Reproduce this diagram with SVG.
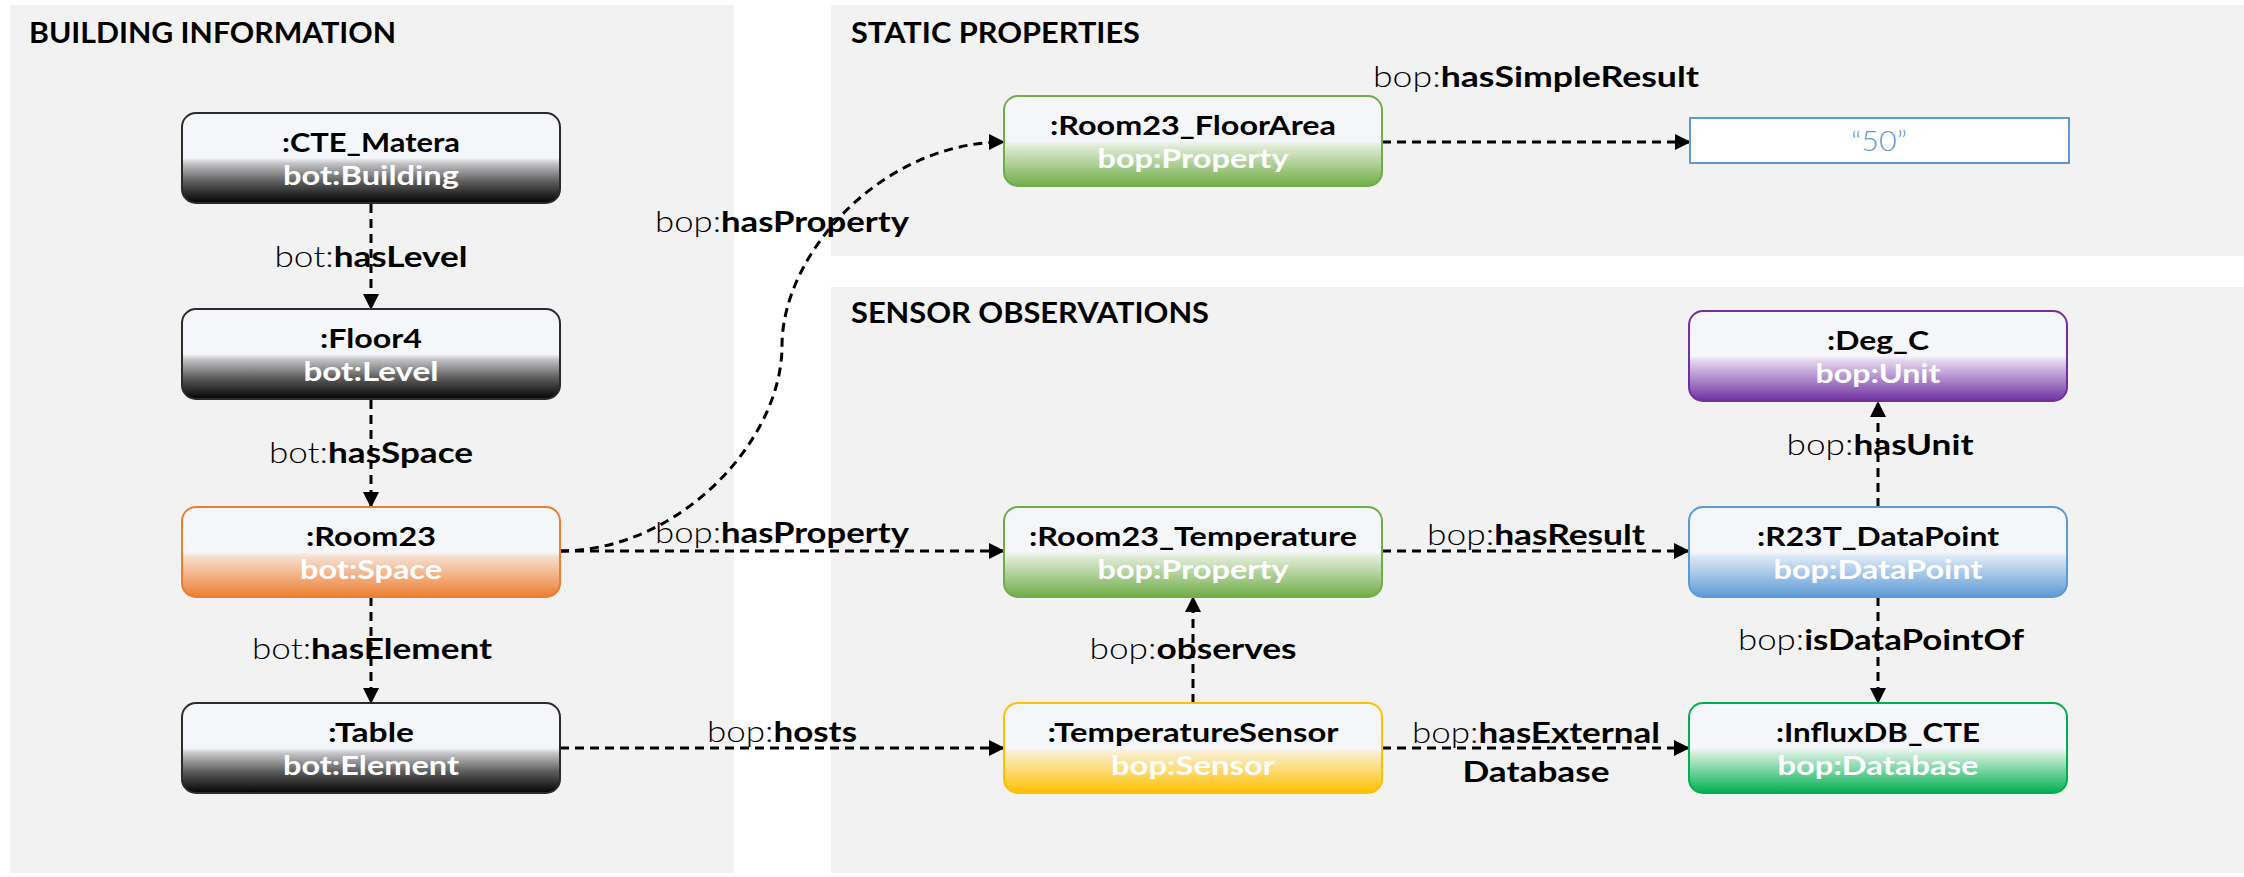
<svg xmlns="http://www.w3.org/2000/svg" width="2244" height="877" viewBox="0 0 2244 877">
  <style>
    .panel { fill: #f2f2f2; }
    .ptitle { font-family: Lato, "Liberation Sans", sans-serif; font-weight: 700; font-size: 29px; fill: #000; }
    .node rect { stroke-width: 2; }
    .ntitle { font-family: Lato, "Liberation Sans", sans-serif; font-weight: 700; font-size: 27px; fill: #000; text-anchor: middle; }
    .nsub { font-family: Lato, "Liberation Sans", sans-serif; font-weight: 700; font-size: 27px; fill: #fff; text-anchor: middle; }
    .lbl { font-family: Lato, "Liberation Sans", sans-serif; font-size: 29px; fill: #000; text-anchor: middle; }
    .lt { font-weight: 300; }
    .lb { font-weight: 700; }
    .edge { fill: none; stroke: #000; stroke-width: 3; stroke-dasharray: 9 6; marker-end: url(#arr); }
    .literal { fill: #fff; stroke: #5b9bd5; stroke-width: 2; }
    .littext { font-family: Lato, "Liberation Sans", sans-serif; font-weight: 300; font-size: 28px; fill: #5b9bd5; text-anchor: middle; }
  </style>
  <defs>
    <marker id="arr" markerUnits="userSpaceOnUse" markerWidth="16" markerHeight="16" refX="15" refY="8" orient="auto">
      <path d="M0,0 L16,8 L0,16 Z" fill="#000"/>
    </marker>
    <linearGradient id="gBlack" x1="0" y1="0" x2="0" y2="1">
      <stop offset="0" stop-color="#f5f6fa"/>
      <stop offset="0.5" stop-color="#f5f6fa"/>
      <stop offset="0.56" stop-color="#c4c4c7"/>
      <stop offset="0.76" stop-color="#5e5e5e"/>
      <stop offset="1" stop-color="#030303"/>
    </linearGradient>
    <linearGradient id="gOrange" x1="0" y1="0" x2="0" y2="1">
      <stop offset="0" stop-color="#f5f6fa"/>
      <stop offset="0.5" stop-color="#f5f6fa"/>
      <stop offset="0.55" stop-color="#f6dfd0"/>
      <stop offset="1" stop-color="#ed7d31"/>
    </linearGradient>
    <linearGradient id="gGreen" x1="0" y1="0" x2="0" y2="1">
      <stop offset="0" stop-color="#f5f6fa"/>
      <stop offset="0.5" stop-color="#f5f6fa"/>
      <stop offset="0.55" stop-color="#e1ecd9"/>
      <stop offset="1" stop-color="#70ad47"/>
    </linearGradient>
    <linearGradient id="gYellow" x1="0" y1="0" x2="0" y2="1">
      <stop offset="0" stop-color="#f5f6fa"/>
      <stop offset="0.5" stop-color="#f5f6fa"/>
      <stop offset="0.55" stop-color="#fbefcf"/>
      <stop offset="1" stop-color="#ffc000"/>
    </linearGradient>
    <linearGradient id="gBlue" x1="0" y1="0" x2="0" y2="1">
      <stop offset="0" stop-color="#f5f6fa"/>
      <stop offset="0.5" stop-color="#f5f6fa"/>
      <stop offset="0.55" stop-color="#dde8f5"/>
      <stop offset="1" stop-color="#5b9bd5"/>
    </linearGradient>
    <linearGradient id="gDb" x1="0" y1="0" x2="0" y2="1">
      <stop offset="0" stop-color="#f5f6fa"/>
      <stop offset="0.5" stop-color="#f5f6fa"/>
      <stop offset="0.55" stop-color="#d6efe0"/>
      <stop offset="1" stop-color="#00b050"/>
    </linearGradient>
    <linearGradient id="gPurple" x1="0" y1="0" x2="0" y2="1">
      <stop offset="0" stop-color="#f5f6fa"/>
      <stop offset="0.5" stop-color="#f5f6fa"/>
      <stop offset="0.55" stop-color="#e3d6ee"/>
      <stop offset="1" stop-color="#7030a0"/>
    </linearGradient>
  </defs>

  <rect width="2244" height="877" fill="#fff"/>

  <!-- section panels -->
  <g id="panels">
    <rect class="panel" x="10" y="5" width="724" height="868"/>
    <rect class="panel" x="831" y="5" width="1413" height="251"/>
    <rect class="panel" x="831" y="287" width="1413" height="586"/>
    <text class="ptitle" x="29" y="43" textLength="367" lengthAdjust="spacingAndGlyphs">BUILDING INFORMATION</text>
    <text class="ptitle" x="851" y="43" textLength="289" lengthAdjust="spacingAndGlyphs">STATIC PROPERTIES</text>
    <text class="ptitle" x="851" y="323" textLength="358" lengthAdjust="spacingAndGlyphs">SENSOR OBSERVATIONS</text>
  </g>

  <!-- edge labels -->
  <g id="labels">
    <text class="lbl" x="371" y="267" textLength="193" lengthAdjust="spacingAndGlyphs"><tspan class="lt">bot:</tspan><tspan class="lb">hasLevel</tspan></text>
    <text class="lbl" x="371" y="463" textLength="204" lengthAdjust="spacingAndGlyphs"><tspan class="lt">bot:</tspan><tspan class="lb">hasSpace</tspan></text>
    <text class="lbl" x="372" y="659" textLength="240" lengthAdjust="spacingAndGlyphs"><tspan class="lt">bot:</tspan><tspan class="lb">hasElement</tspan></text>
    <text class="lbl" x="782" y="232" textLength="254" lengthAdjust="spacingAndGlyphs"><tspan class="lt">bop:</tspan><tspan class="lb">hasProperty</tspan></text>
    <text class="lbl" x="782" y="543" textLength="254" lengthAdjust="spacingAndGlyphs"><tspan class="lt">bop:</tspan><tspan class="lb">hasProperty</tspan></text>
    <text class="lbl" x="782" y="742" textLength="150" lengthAdjust="spacingAndGlyphs"><tspan class="lt">bop:</tspan><tspan class="lb">hosts</tspan></text>
    <text class="lbl" x="1193" y="659" textLength="207" lengthAdjust="spacingAndGlyphs"><tspan class="lt">bop:</tspan><tspan class="lb">observes</tspan></text>
    <text class="lbl" x="1536" y="87" textLength="326" lengthAdjust="spacingAndGlyphs"><tspan class="lt">bop:</tspan><tspan class="lb">hasSimpleResult</tspan></text>
    <text class="lbl" x="1536" y="545" textLength="218" lengthAdjust="spacingAndGlyphs"><tspan class="lt">bop:</tspan><tspan class="lb">hasResult</tspan></text>
    <text class="lbl" x="1536" y="743" textLength="248" lengthAdjust="spacingAndGlyphs"><tspan class="lt">bop:</tspan><tspan class="lb">hasExternal</tspan></text>
    <text class="lbl lb" x="1536" y="782" textLength="147" lengthAdjust="spacingAndGlyphs">Database</text>
    <text class="lbl" x="1880" y="455" textLength="187" lengthAdjust="spacingAndGlyphs"><tspan class="lt">bop:</tspan><tspan class="lb">hasUnit</tspan></text>
    <text class="lbl" x="1881" y="650" textLength="286" lengthAdjust="spacingAndGlyphs"><tspan class="lt">bop:</tspan><tspan class="lb">isDataPointOf</tspan></text>
  </g>

  <!-- connectors -->
  <g id="connectors">
    <line class="edge" x1="371" y1="204" x2="371" y2="309"/>
    <line class="edge" x1="371" y1="400" x2="371" y2="507"/>
    <line class="edge" x1="371" y1="597" x2="371" y2="703"/>
    <path class="edge" d="M560,551 C680,551 782,440 782,346 C782,252 884,142 1004,142"/>
    <line class="edge" x1="560" y1="551" x2="1004" y2="551"/>
    <line class="edge" x1="560" y1="748" x2="1004" y2="748"/>
    <line class="edge" x1="1193" y1="703" x2="1193" y2="597"/>
    <line class="edge" x1="1382" y1="142" x2="1690" y2="142"/>
    <line class="edge" x1="1382" y1="551" x2="1689" y2="551"/>
    <line class="edge" x1="1878" y1="507" x2="1878" y2="402"/>
    <line class="edge" x1="1878" y1="597" x2="1878" y2="703"/>
    <line class="edge" x1="1382" y1="748" x2="1689" y2="748"/>
  </g>

  <!-- building nodes -->
  <g id="cte-matera" class="node">
    <rect x="182" y="113" width="378" height="90" rx="14" fill="url(#gBlack)" stroke="#2b2b2b"/>
    <text class="ntitle" x="371" y="152" textLength="178" lengthAdjust="spacingAndGlyphs">:CTE_Matera</text>
    <text class="nsub" x="371" y="185" textLength="176" lengthAdjust="spacingAndGlyphs">bot:Building</text>
  </g>
  <g id="floor4" class="node">
    <rect x="182" y="309" width="378" height="90" rx="14" fill="url(#gBlack)" stroke="#2b2b2b"/>
    <text class="ntitle" x="371" y="348" textLength="102" lengthAdjust="spacingAndGlyphs">:Floor4</text>
    <text class="nsub" x="371" y="381" textLength="135" lengthAdjust="spacingAndGlyphs">bot:Level</text>
  </g>
  <g id="room23" class="node">
    <rect x="182" y="507" width="378" height="90" rx="14" fill="url(#gOrange)" stroke="#ed7d31"/>
    <text class="ntitle" x="371" y="546" textLength="130" lengthAdjust="spacingAndGlyphs">:Room23</text>
    <text class="nsub" x="371" y="579" textLength="142" lengthAdjust="spacingAndGlyphs">bot:Space</text>
  </g>
  <g id="table" class="node">
    <rect x="182" y="703" width="378" height="90" rx="14" fill="url(#gBlack)" stroke="#2b2b2b"/>
    <text class="ntitle" x="371" y="742" textLength="86" lengthAdjust="spacingAndGlyphs">:Table</text>
    <text class="nsub" x="371" y="775" textLength="176" lengthAdjust="spacingAndGlyphs">bot:Element</text>
  </g>

  <!-- property / sensor nodes -->
  <g id="room23-floorarea" class="node">
    <rect x="1004" y="96" width="378" height="90" rx="14" fill="url(#gGreen)" stroke="#70ad47"/>
    <text class="ntitle" x="1193" y="135" textLength="286" lengthAdjust="spacingAndGlyphs">:Room23_FloorArea</text>
    <text class="nsub" x="1193" y="168" textLength="191" lengthAdjust="spacingAndGlyphs">bop:Property</text>
  </g>
  <g id="literal-50" class="node">
    <rect class="literal" x="1690" y="118" width="379" height="45"/>
    <text class="littext" x="1879" y="151" textLength="56" lengthAdjust="spacingAndGlyphs">“50”</text>
  </g>
  <g id="room23-temperature" class="node">
    <rect x="1004" y="507" width="378" height="90" rx="14" fill="url(#gGreen)" stroke="#70ad47"/>
    <text class="ntitle" x="1193" y="546" textLength="328" lengthAdjust="spacingAndGlyphs">:Room23_Temperature</text>
    <text class="nsub" x="1193" y="579" textLength="191" lengthAdjust="spacingAndGlyphs">bop:Property</text>
  </g>
  <g id="temperature-sensor" class="node">
    <rect x="1004" y="703" width="378" height="90" rx="14" fill="url(#gYellow)" stroke="#ffc000"/>
    <text class="ntitle" x="1193" y="742" textLength="291" lengthAdjust="spacingAndGlyphs">:TemperatureSensor</text>
    <text class="nsub" x="1193" y="775" textLength="164" lengthAdjust="spacingAndGlyphs">bop:Sensor</text>
  </g>
  <g id="deg-c" class="node">
    <rect x="1689" y="311" width="378" height="90" rx="14" fill="url(#gPurple)" stroke="#7030a0"/>
    <text class="ntitle" x="1878" y="350" textLength="102" lengthAdjust="spacingAndGlyphs">:Deg_C</text>
    <text class="nsub" x="1878" y="383" textLength="125" lengthAdjust="spacingAndGlyphs">bop:Unit</text>
  </g>
  <g id="r23t-datapoint" class="node">
    <rect x="1689" y="507" width="378" height="90" rx="14" fill="url(#gBlue)" stroke="#5b9bd5"/>
    <text class="ntitle" x="1878" y="546" textLength="242" lengthAdjust="spacingAndGlyphs">:R23T_DataPoint</text>
    <text class="nsub" x="1878" y="579" textLength="209" lengthAdjust="spacingAndGlyphs">bop:DataPoint</text>
  </g>
  <g id="influxdb-cte" class="node">
    <rect x="1689" y="703" width="378" height="90" rx="14" fill="url(#gDb)" stroke="#00b050"/>
    <text class="ntitle" x="1878" y="742" textLength="204" lengthAdjust="spacingAndGlyphs">:InfluxDB_CTE</text>
    <text class="nsub" x="1878" y="775" textLength="201" lengthAdjust="spacingAndGlyphs">bop:Database</text>
  </g>
</svg>
